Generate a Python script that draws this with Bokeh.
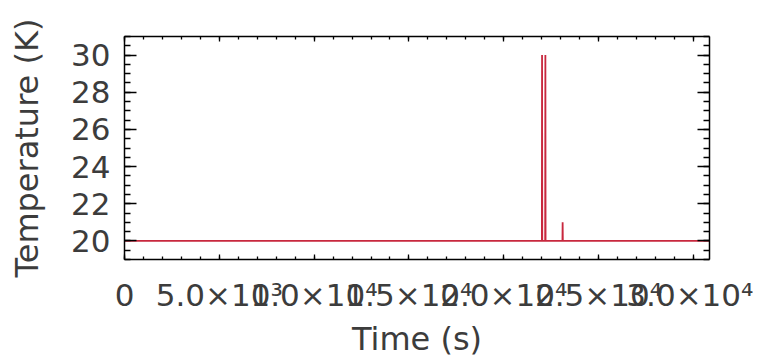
from bokeh.plotting import figure
from bokeh.models import Range1d, LinearAxis, SingleIntervalTicker, ColumnDataSource
from bokeh.embed import file_html
from bokeh.resources import INLINE

# ---- data ----
time_s = [0, 22010, 22020, 22030, 22185, 22195, 22205, 23095, 23105, 23115, 30850]
temp_k = [20, 20, 30, 20, 20, 30, 20, 20, 21, 20, 20]

x_tick_labels = {0: "0", 5000: "5.0×10³", 10000: "1.0×10⁴", 15000: "1.5×10⁴",
                 20000: "2.0×10⁴", 25000: "2.5×10⁴", 30000: "3.0×10⁴"}
x_title = "Time (s)"
y_title = "Temperature (K)"

FONT = "DejaVu Sans"
TXT = "#3c3c3c"
FS = "31px"
FS_T = "32px"

p = figure(frame_width=585, frame_height=223,
           min_border_left=124, min_border_top=36, min_border_right=44, min_border_bottom=98,
           x_range=Range1d(0, 30850), y_range=Range1d(19, 31),
           output_backend="svg", toolbar_location=None,
           x_axis_location=None, y_axis_location=None)
p.grid.visible = False
p.outline_line_color = None
p.background_fill_color = "white"
p.border_fill_color = "white"

src = ColumnDataSource(dict(t=time_s, T=temp_k))
p.line("t", "T", source=src, line_color="#c8283e", line_width=1.8)

def xt():
    return SingleIntervalTicker(interval=5000, num_minor_ticks=5)

def yt():
    return SingleIntervalTicker(interval=2, num_minor_ticks=4)

def style(ax, labels, tin, mtin):
    ax.axis_line_color = "black"
    ax.axis_line_width = 1.5
    ax.major_tick_line_color = "black"
    ax.minor_tick_line_color = "black"
    ax.major_tick_line_width = 1.3
    ax.minor_tick_line_width = 1.3
    ax.major_tick_in = tin
    ax.major_tick_out = 0
    ax.minor_tick_in = mtin
    ax.minor_tick_out = 0
    ax.major_label_text_font = FONT
    ax.major_label_text_font_size = FS
    ax.major_label_text_color = TXT if labels else None
    ax.axis_label_text_font = FONT
    ax.axis_label_text_font_size = FS_T
    ax.axis_label_text_font_style = "normal"
    ax.axis_label_text_color = TXT

xb = LinearAxis(ticker=xt(), axis_label=x_title)
style(xb, True, 5, 3)
xb.major_label_overrides = x_tick_labels
xb.major_label_standoff = 17
xb.axis_label_standoff = 4
p.add_layout(xb, "below")

xa = LinearAxis(ticker=xt())
style(xa, False, 5, 3)
xa.major_label_text_font_size = "0px"
p.add_layout(xa, "above")

yl = LinearAxis(ticker=yt(), axis_label=y_title)
style(yl, True, 12, 6)
yl.major_label_standoff = 14
yl.axis_label_standoff = 22
p.add_layout(yl, "left")

yr = LinearAxis(ticker=yt())
style(yr, False, 12, 6)
yr.major_label_text_font_size = "0px"
p.add_layout(yr, "right")

open("out.html", "w").write(file_html(p, INLINE))
